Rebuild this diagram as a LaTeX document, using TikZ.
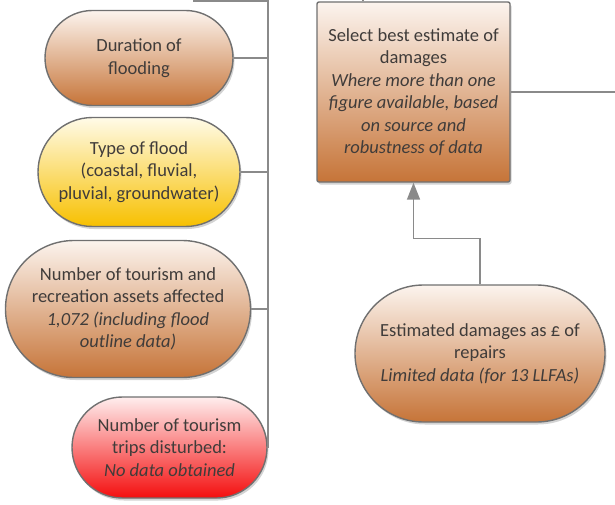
\documentclass[tikz,border=0pt]{standalone}
\usepackage{fontspec}
\setmainfont{Carlito}
\usetikzlibrary{arrows.meta,calc,shadows}
\definecolor{inkGrey}{RGB}{64,60,58}
\definecolor{lineGrey}{RGB}{138,138,138}
\definecolor{edgeGrey}{RGB}{112,112,112}
\definecolor{clayLow}{RGB}{198,116,56}
\definecolor{clayHigh}{RGB}{252,244,238}
\definecolor{goldLow}{RGB}{247,192,0}
\definecolor{goldHigh}{RGB}{255,251,232}
\definecolor{redLow}{RGB}{244,14,14}
\definecolor{redHigh}{RGB}{255,238,238}

\begin{document}
\begin{tikzpicture}[
    x=1pt, y=-1pt,
    font=\fontsize{18.5}{22.5}\selectfont,
    text=inkGrey,
    link/.style={draw=lineGrey, line width=1.6pt},
    uplink/.style={link, -{Triangle[width=13pt, length=17pt]}},
    pill/.style={
      draw=edgeGrey,
      line width=1.4pt,
      align=center,
      inner sep=0pt,
      drop shadow={shadow xshift=1.5pt, shadow yshift=-2.5pt, opacity=0.35}
    },
    clay/.style={pill, top color=clayHigh, bottom color=clayLow},
    gold/.style={pill, top color=goldHigh, bottom color=goldLow},
    alarm/.style={pill, top color=redHigh, bottom color=redLow}
  ]
    \useasboundingbox (0,0) rectangle (615,505);

    \node[clay, minimum width=188pt, minimum height=95pt, rounded corners=47.5pt]
      (duration) at (139,58) {Duration of\\flooding};
    \node[gold, minimum width=202pt, minimum height=109pt, rounded corners=54.5pt]
      (floodtype) at (139,172) {Type of flood\\(coastal, fluvial,\\pluvial, groundwater)};
    \node[clay, minimum width=245pt, minimum height=137pt, rounded corners=68.5pt]
      (assets) at (128,309) {Number of tourism and\\recreation assets affected\\
      \textit{1,072 (including flood}\\\textit{outline data)}};
    \node[alarm, minimum width=195pt, minimum height=101pt, rounded corners=50.5pt]
      (trips) at (169.5,447.5) {Number of tourism\\trips disturbed:\\\textit{No data obtained}};

    \node[clay, rounded corners=2pt, minimum width=193pt, minimum height=180pt]
      (select) at (413.5,92) {Select best estimate of\\damages\\
      \textit{Where more than one}\\\textit{figure available, based}\\
      \textit{on source and}\\\textit{robustness of data}};
    \node[clay, minimum width=250pt, minimum height=137pt, rounded corners=68.5pt]
      (estimated) at (480,353.5) {Estimated damages as \pounds\ of\\repairs\\
      \textit{Limited data (for 13 LLFAs)}};

    \coordinate (spinetop) at (268,1);
    \coordinate (leftout) at (193,1);
    \coordinate (upout) at (363,0);
    \coordinate (rightout) at (615,90);

    \draw[link] (leftout) -- (spinetop) -- (spinetop |- trips.east) -- (trips.east);
    \draw[link] (duration.east) -- (duration.east -| spinetop);
    \draw[link] (floodtype.east) -- (floodtype.east -| spinetop);
    \draw[link] (assets.east) -- (assets.east -| spinetop);

    \draw[link] (select.north -| upout) -- (upout);
    \draw[link] (select.east) -- (select.east -| rightout);
    \draw[uplink] (estimated.north) |- ($(select.south)!0.55!(estimated.north)$) -| (select.south);
  \end{tikzpicture}
\end{document}
